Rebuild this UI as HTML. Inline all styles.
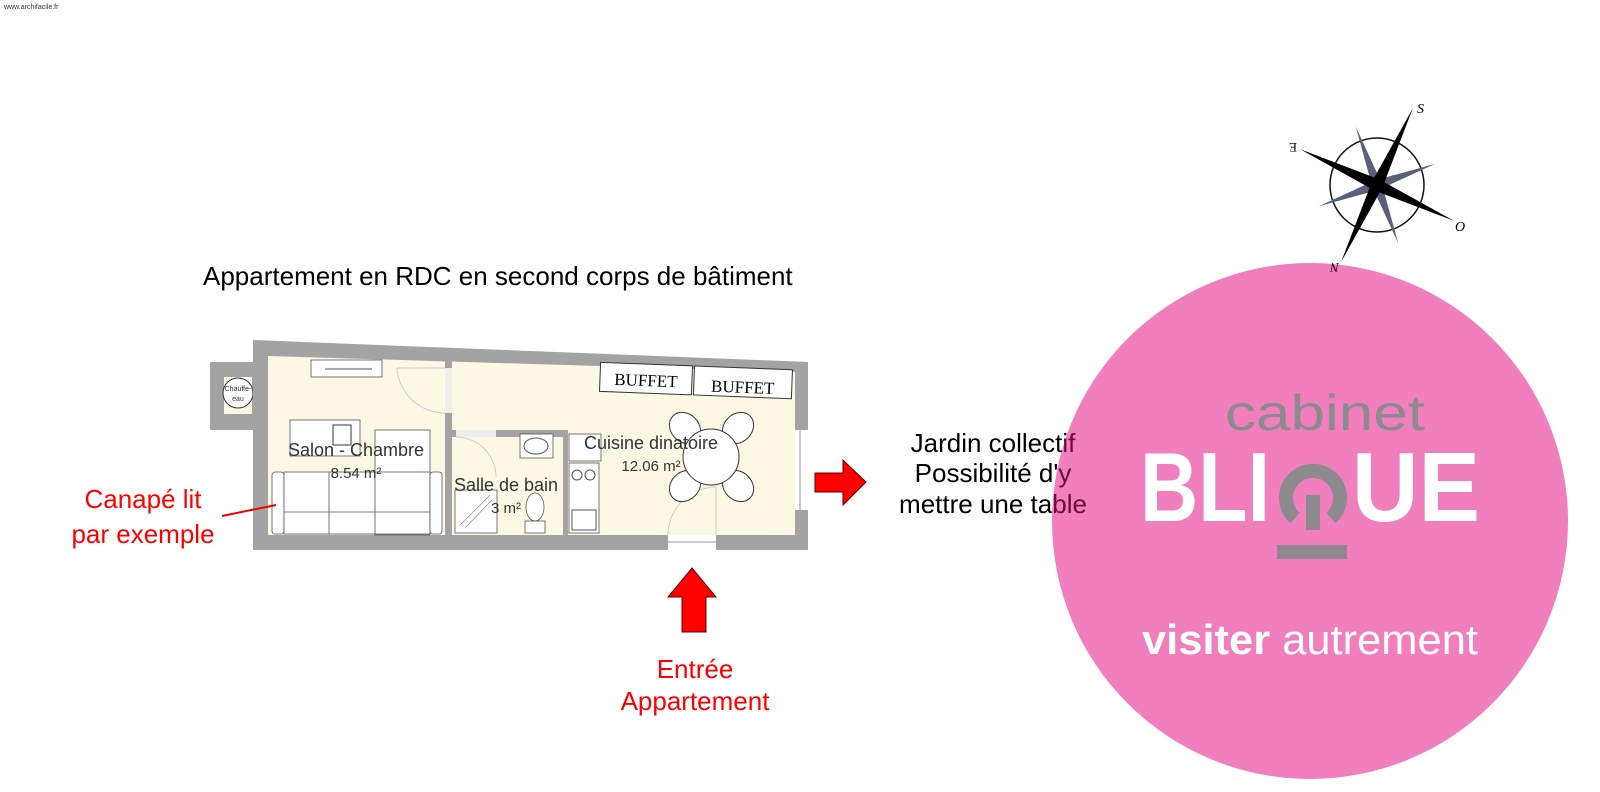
<!DOCTYPE html>
<html><head><meta charset="utf-8"><style>
html,body{margin:0;padding:0;background:#fff;}
svg{display:block;font-family:"Liberation Sans",sans-serif;}
</style></head><body>
<svg width="1600" height="792" viewBox="0 0 1600 792" xmlns="http://www.w3.org/2000/svg">
<defs>
<clipPath id="circ"><circle cx="1310" cy="521" r="258"/></clipPath>
</defs>
<text x="4" y="9" font-size="7" fill="#333">www.archifacile.fr</text>

<text x="203" y="285" font-size="26" fill="#000">Appartement en RDC en second corps de bâtiment</text>

<!-- Floor plan -->
<rect x="210" y="362" width="45" height="68" fill="#a3a3a3"/>
<rect x="224" y="377" width="28" height="37" fill="#fdf8e4"/>
<circle cx="238" cy="393" r="15" fill="#fff" stroke="#333" stroke-width="1"/>
<text x="238" y="391" font-size="7" text-anchor="middle" fill="#333">Chauffe-</text>
<text x="238" y="401" font-size="7" text-anchor="middle" fill="#333">eau</text>
<polygon points="253,340 808,362 808,550 253,550" fill="#a3a3a3"/>
<polygon points="268,356 795,372 795,535 268,535" fill="#fdf8e4"/>
<rect x="445" y="360" width="7" height="175" fill="#a3a3a3"/>
<rect x="452" y="430" width="116" height="7" fill="#a3a3a3"/>
<rect x="563" y="430" width="5" height="105" fill="#a3a3a3"/>
<rect x="445" y="368" width="7" height="45" fill="#eee"/>
<rect x="456" y="430" width="40" height="7" fill="#eee"/>
<rect x="668" y="535" width="48" height="15" fill="#fff"/>
<line x1="668" y1="542" x2="716" y2="542" stroke="#999"/>
<rect x="795" y="430" width="13" height="80" fill="#fff"/>
<line x1="800" y1="430" x2="800" y2="510" stroke="#999"/>
<path d="M397,368 A48,48 0 0 0 445,413" fill="none" stroke="#ccc"/>
<line x1="397" y1="368" x2="445" y2="368" stroke="#ccc"/>
<path d="M456,437 A40,40 0 0 1 496,477" fill="none" stroke="#ccc"/>
<path d="M668,535 A48,48 0 0 1 716,487" fill="none" stroke="#ccc"/>
<line x1="716" y1="487" x2="716" y2="535" stroke="#ccc"/>
<rect x="311" y="360" width="71" height="17" fill="#fff" stroke="#555" stroke-width="0.8"/>
<line x1="325" y1="369" x2="372" y2="369" stroke="#555"/>
<rect x="290" y="420" width="70" height="36" fill="#fff" stroke="#555" stroke-width="0.8"/>
<rect x="333" y="425" width="18" height="20" fill="#fff" stroke="#333"/>
<rect x="375" y="430" width="55" height="105" fill="#fff" stroke="#555" stroke-width="0.8"/>
<rect x="272" y="472" width="12" height="62" rx="3" fill="#fff" stroke="#555" stroke-width="0.8"/>
<rect x="284" y="472" width="146" height="62" fill="#fff" stroke="#555" stroke-width="0.8"/>
<line x1="329" y1="472" x2="329" y2="534" stroke="#555" stroke-width="0.8"/>
<line x1="375" y1="472" x2="375" y2="534" stroke="#555" stroke-width="0.8"/>
<line x1="284" y1="512" x2="430" y2="512" stroke="#555" stroke-width="0.8"/>
<rect x="430" y="472" width="12" height="62" rx="3" fill="#fff" stroke="#555" stroke-width="0.8"/>
<rect x="455" y="490" width="42" height="43" fill="#fff" stroke="#555" stroke-width="0.8"/>
<line x1="460" y1="525" x2="490" y2="495" stroke="#777" stroke-width="0.6"/>
<line x1="465" y1="528" x2="492" y2="500" stroke="#777" stroke-width="0.6"/>
<rect x="520" y="434" width="33" height="24" fill="#fff" stroke="#555" stroke-width="0.8"/>
<ellipse cx="536" cy="446" rx="12" ry="8" fill="#fff" stroke="#555"/>
<ellipse cx="535" cy="507" rx="9" ry="14" fill="#fff" stroke="#555" stroke-width="0.8"/>
<rect x="525" y="521" width="20" height="12" fill="#fff" stroke="#555" stroke-width="0.8"/>
<rect x="569" y="434" width="32" height="27" fill="#fff" stroke="#555" stroke-width="0.8"/>
<rect x="569" y="463" width="30" height="70" fill="#fff" stroke="#555" stroke-width="0.8"/>
<circle cx="577" cy="475" r="5" fill="none" stroke="#555"/>
<circle cx="590" cy="475" r="5" fill="none" stroke="#555"/>
<rect x="572" y="510" width="24" height="20" fill="none" stroke="#555"/>
<g transform="rotate(2.2 695 380)">
<rect x="600" y="366" width="92" height="29" fill="#fff" stroke="#333"/>
<rect x="694" y="366" width="98" height="29" fill="#fff" stroke="#333"/>
<text x="646" y="388" font-family="Liberation Serif,serif" font-size="17" text-anchor="middle" fill="#000">BUFFET</text>
<text x="743" y="391" font-family="Liberation Serif,serif" font-size="17" text-anchor="middle" fill="#000">BUFFET</text>
</g>
<ellipse cx="685" cy="428" rx="17" ry="14" fill="#fff" stroke="#333" transform="rotate(45 685 428)"/>
<ellipse cx="738" cy="428" rx="17" ry="14" fill="#fff" stroke="#333" transform="rotate(-45 738 428)"/>
<ellipse cx="685" cy="486" rx="17" ry="14" fill="#fff" stroke="#333" transform="rotate(-45 685 486)"/>
<ellipse cx="738" cy="486" rx="17" ry="14" fill="#fff" stroke="#333" transform="rotate(45 738 486)"/>
<circle cx="711" cy="457" r="28" fill="#fff" stroke="#333"/>
<text x="356" y="456" font-size="18" text-anchor="middle" fill="#333">Salon - Chambre</text>
<text x="356" y="478" font-size="15" text-anchor="middle" fill="#333">8.54 m²</text>
<text x="506" y="491" font-size="18" text-anchor="middle" fill="#333">Salle de bain</text>
<text x="506" y="513" font-size="15" text-anchor="middle" fill="#333">3 m²</text>
<text x="651" y="449" font-size="18" text-anchor="middle" fill="#333">Cuisine dinatoire</text>
<text x="651" y="471" font-size="15" text-anchor="middle" fill="#333">12.06 m²</text>

<line x1="222" y1="516" x2="276" y2="505" stroke="#e00" stroke-width="2"/>
<text x="143" y="508" font-size="26" text-anchor="middle" fill="#f00">Canapé lit</text>
<text x="143" y="543" font-size="26" text-anchor="middle" fill="#f00">par exemple</text>
<polygon points="815,473 843,473 843,460 866,482 843,505 843,492 815,492" fill="#f00" stroke="#600" stroke-width="1"/>
<polygon points="692,568 716,597 706,597 706,632 682,632 682,597 668,597" fill="#f00" stroke="#600" stroke-width="1"/>
<text x="695" y="678" font-size="26" text-anchor="middle" fill="#f00">Entrée</text>
<text x="695" y="710" font-size="26" text-anchor="middle" fill="#f00">Appartement</text>

<g>
<text x="993" y="452" font-size="26" text-anchor="middle">Jardin collectif</text>
<text x="993" y="482" font-size="26" text-anchor="middle">Possibilité d'y</text>
<text x="993" y="513" font-size="26" text-anchor="middle">mettre une table</text>
</g>

<circle cx="1310" cy="521" r="258" fill="#f17fbd"/>
<g clip-path="url(#circ)" fill="#6b0a3c">
<text x="993" y="452" font-size="26" text-anchor="middle">Jardin collectif</text>
<text x="993" y="482" font-size="26" text-anchor="middle">Possibilité d'y</text>
<text x="993" y="513" font-size="26" text-anchor="middle">mettre une table</text>
</g>
<text x="1225" y="430" font-size="50" fill="#8c8a8c" textLength="200" lengthAdjust="spacingAndGlyphs">cabinet</text>
<text x="1140" y="521" font-size="98" font-weight="bold" fill="#fff" textLength="130" lengthAdjust="spacingAndGlyphs">BLI</text>
<path d="M1295,518 A27,27 0 1 1 1331,518" fill="none" stroke="#8c8a8c" stroke-width="14"/>
<rect x="1306" y="495" width="14" height="35" fill="#8c8a8c"/>
<text x="1352" y="521" font-size="98" font-weight="bold" fill="#fff" textLength="128" lengthAdjust="spacingAndGlyphs">UE</text>
<rect x="1277" y="545" width="70" height="14" fill="#8c8a8c"/>
<text x="1142" y="654" font-size="42" fill="#fff" textLength="336" lengthAdjust="spacingAndGlyphs"><tspan font-weight="bold">visiter</tspan> autrement</text>

<g transform="translate(1377,185)">
<circle r="47" fill="#fff" stroke="#111" stroke-width="1.5"/>
<g fill="#5a5f7a" transform="rotate(70)">
<polygon points="-5,0 0,-62 5,0 0,5"/>
<polygon points="-5,0 0,62 5,0 0,-5"/>
<polygon points="0,-5 -62,0 0,5 5,0"/>
<polygon points="0,-5 62,0 0,5 -5,0"/>
</g>
<g fill="#000" transform="rotate(25)">
<polygon points="-6,0 0,-85 6,0 0,6"/>
<polygon points="-6,0 0,85 6,0 0,-6"/>
<polygon points="0,-6 -85,0 0,6 6,0"/>
<polygon points="0,-6 85,0 0,6 -6,0"/>
</g>
<text x="40" y="-72" font-family="Liberation Serif,serif" font-size="14" font-style="italic">S</text>
<text x="78" y="46" font-family="Liberation Serif,serif" font-size="14" font-style="italic">O</text>
<text x="-38" y="86" font-family="Liberation Serif,serif" font-size="13" font-style="italic" transform="rotate(180 -38 82)">N</text>
<text x="-80" y="-34" font-family="Liberation Serif,serif" font-size="13" transform="rotate(180 -80 -38)">E</text>
</g>
</svg>
</body></html>
